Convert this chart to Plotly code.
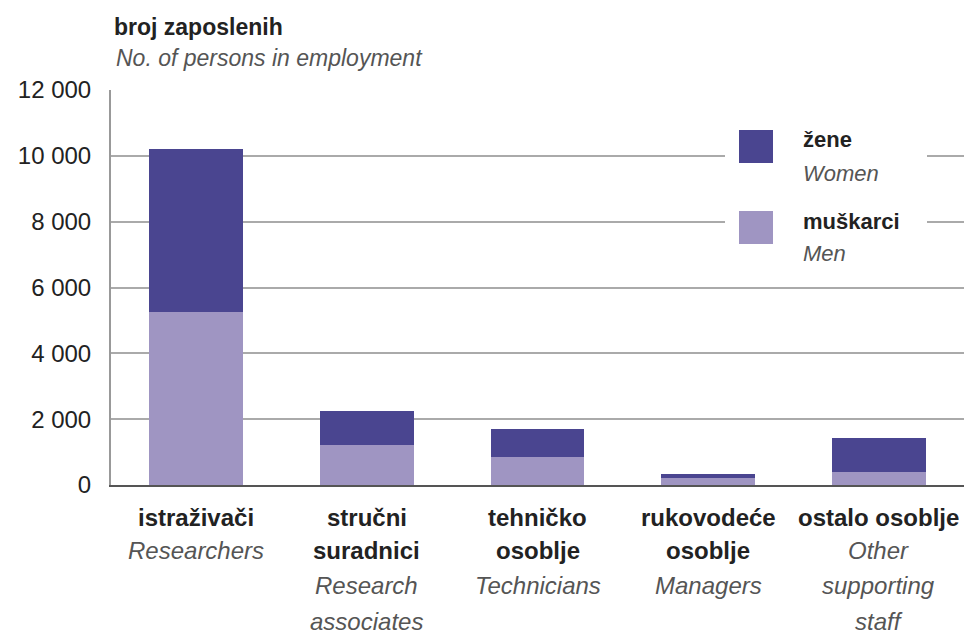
import plotly.graph_objects as go

categories = ["istraživači", "stručni suradnici", "tehničko osoblje", "rukovodeće osoblje", "ostalo osoblje"]
cat_hr = [["istraživači"], ["stručni", "suradnici"], ["tehničko", "osoblje"], ["rukovodeće", "osoblje"], ["ostalo osoblje"]]
cat_en = [["Researchers"], ["Research", "associates"], ["Technicians"], ["Managers"], ["Other", "supporting", "staff"]]
men = [5250, 1220, 840, 220, 380]
women_total = [10200, 2250, 1700, 330, 1420]
women = [t - m for t, m in zip(women_total, men)]
y_ticks = [0, 2000, 4000, 6000, 8000, 10000, 12000]

C_WOMEN = "#4a4590"
C_MEN = "#9f95c2"
FONT = "Liberation Sans, Arial, sans-serif"

W, H = 968, 634
ML, MR, MT, MB = 111, 4, 90, 149
PW, PH = W - ML - MR, H - MT - MB
ROWS = [517, 550, 585, 621]


def px(x):
    return (x - ML) / PW


def py(y):
    return (H - MB - y) / PH


fig = go.Figure()
fig.add_trace(go.Bar(x=categories, y=men, name="muškarci", marker=dict(color=C_MEN, line=dict(width=0)), width=0.55))
fig.add_trace(go.Bar(x=categories, y=women, name="žene", marker=dict(color=C_WOMEN, line=dict(width=0)), width=0.55))

shapes = [
    dict(type="rect", xref="paper", yref="paper", x0=px(725), x1=px(927), y0=py(268), y1=py(118),
         fillcolor="white", line=dict(width=0), layer="above"),
    dict(type="rect", xref="paper", yref="paper", x0=px(739), x1=px(773), y0=py(163), y1=py(130),
         fillcolor=C_WOMEN, line=dict(width=0), layer="above"),
    dict(type="rect", xref="paper", yref="paper", x0=px(739), x1=px(773), y0=py(244), y1=py(211),
         fillcolor=C_MEN, line=dict(width=0), layer="above"),
]


def ann(text, x, y, size, color, xanchor="left"):
    return dict(text=text, x=px(x), y=py(y), xref="paper", yref="paper",
                xanchor=xanchor, yanchor="middle", showarrow=False,
                font=dict(size=size, color=color, family=FONT))


annotations = [
    ann("<b>broj zaposlenih</b>", 112, 27, 23, "#222"),
    ann("<i>No. of persons in employment</i>", 114, 58, 23, "#555"),
    ann("<b>žene</b>", 801, 139, 22, "#222"),
    ann("<i>Women</i>", 801, 173, 22, "#555"),
    ann("<b>muškarci</b>", 801, 221, 22, "#222"),
    ann("<i>Men</i>", 801, 253, 22, "#555"),
]

# category labels: bold Croatian lines, then italic English lines, under each bar
for cat, hr, en in zip(categories, cat_hr, cat_en):
    lines = [f"<b>{t}</b>" for t in hr] + [f"<i>{t}</i>" for t in en]
    colors = ["#222"] * len(hr) + ["#555"] * len(en)
    for i, (t, c) in enumerate(zip(lines, colors)):
        annotations.append(dict(text=t, x=cat, xref="x", y=py(ROWS[i]), yref="paper",
                                xanchor="center", yanchor="middle", showarrow=False,
                                font=dict(size=24, color=c, family=FONT)))

fig.update_layout(
    width=W, height=H,
    margin=dict(l=ML, r=MR, t=MT, b=MB, pad=0),
    barmode="stack",
    showlegend=False,
    plot_bgcolor="white", paper_bgcolor="white",
    separators=". ",
    font=dict(family=FONT, size=23, color="#222"),
    shapes=shapes,
    annotations=annotations,
    xaxis=dict(
        range=[-0.5, 4.5], tickmode="array", tickvals=categories, showticklabels=False,
        showline=True, linecolor="#555", linewidth=2, ticks="", showgrid=False,
    ),
    yaxis=dict(
        range=[0, 12000], tickmode="array", tickvals=y_ticks, tickformat=",d",
        showline=True, linecolor="#999", linewidth=2, ticks="",
        showgrid=True, gridcolor="#aaaaaa", gridwidth=2, zeroline=False,
        tickfont=dict(size=24, color="#222", family=FONT), ticklabelstandoff=13,
    ),
)

fig.write_html("out.html", config={"displayModeBar": False},
               post_script="document.body.style.margin='0px';document.body.style.overflow='hidden';")
